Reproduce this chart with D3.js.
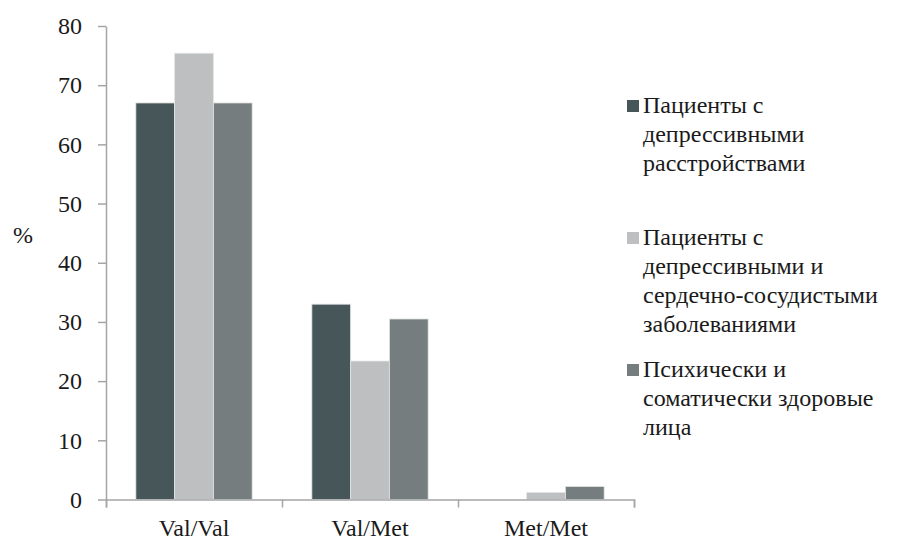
<!DOCTYPE html>
<html>
<head>
<meta charset="utf-8">
<script src="https://cdn.jsdelivr.net/npm/d3@7"></script>
<style>
  body { margin: 0; background: #fff; }
  #chart text, #chart tspan { font-family: "Liberation Serif", serif !important; font-size: 24px !important; fill: #1a1a1a; }
</style>
</head>
<body>
<svg id="chart" width="908" height="541"></svg>
<script>
var categories = ["Val/Val", "Val/Met", "Met/Met"];
var seriesNames = [
    ["Пациенты с", "депрессивными", "расстройствами"],
    ["Пациенты с", "депрессивными и", "сердечно-сосудистыми", "заболеваниями"],
    ["Психически и", "соматически здоровые", "лица"]
];
var seriesValues = [
    [67, 33, 0],
    [75.4, 23.4, 1.2],
    [67, 30.5, 2.2]
];
var yTicks = [0, 10, 20, 30, 40, 50, 60, 70, 80];
var colors = ["#475759", "#bebfc1", "#757d7e"];

var svg = d3.select("#chart"),
    plot = { left: 106, right: 634, top: 26, bottom: 499.5 },
    axisColor = "#a3a5a6";

var x0 = d3.scaleBand()
    .domain(categories)
    .range([plot.left, plot.right]);

var x1 = d3.scaleBand()
    .domain(d3.range(seriesValues.length))
    .range([0, x0.bandwidth()])
    .paddingOuter(0.77);

var y = d3.scaleLinear()
    .domain([0, 80])
    .range([plot.bottom, plot.top]);

// y axis
var yAxis = svg.append("g")
    .attr("transform", "translate(" + plot.left + ",0)")
    .call(d3.axisLeft(y).tickValues(yTicks).tickSize(8).tickSizeOuter(0).tickPadding(16));
yAxis.attr("font-family", null).attr("font-size", null);
yAxis.selectAll("line, path").attr("stroke", axisColor).attr("stroke-width", 1.5);

// bars
svg.append("g")
    .selectAll("g")
    .data(categories)
    .join("g")
    .attr("transform", c => "translate(" + x0(c) + ",0)")
    .selectAll("rect")
    .data((c, ci) => seriesValues.map((vals, si) => ({ s: si, v: vals[ci] })))
    .join("rect")
    .attr("x", d => x1(d.s))
    .attr("width", x1.bandwidth())
    .attr("y", d => y(d.v))
    .attr("height", d => y(0) - y(d.v))
    .attr("fill", d => colors[d.s])
    .attr("stroke", d => d.v > 0 ? "#e4e5e5" : "none")
    .attr("stroke-width", 0.8);

// x axis: line with boundary ticks, then labels
var xEdges = d3.scaleLinear().domain([0, categories.length]).range([plot.left, plot.right]);
var xAxis = svg.append("g")
    .attr("transform", "translate(0," + plot.bottom + ")")
    .call(d3.axisBottom(xEdges).ticks(categories.length).tickFormat("").tickSize(8).tickSizeOuter(8));
xAxis.selectAll("line, path").attr("stroke", axisColor).attr("stroke-width", 1.5);

var xLabels = svg.append("g")
    .attr("transform", "translate(0," + plot.bottom + ")")
    .call(d3.axisBottom(x0).tickSize(0).tickPadding(19));
xLabels.attr("font-family", null).attr("font-size", null);
xLabels.select(".domain").remove();

// y title
svg.append("text")
    .attr("x", 23)
    .attr("y", 243)
    .attr("text-anchor", "middle")
    .text("%");

// legend
var legendY = d3.scaleLinear().domain([0, 1]).range([113, 245]),
    lineHeight = 29;
var legend = svg.append("g")
    .selectAll("g")
    .data(seriesNames)
    .join("g")
    .attr("transform", (d, i) => "translate(627," + legendY(i) + ")");
legend.append("rect")
    .attr("x", 0)
    .attr("y", -13)
    .attr("width", 12)
    .attr("height", 12)
    .attr("fill", (d, i) => colors[i]);
legend.append("text")
    .selectAll("tspan")
    .data(d => d)
    .join("tspan")
    .attr("x", 16)
    .attr("y", (d, i) => i * lineHeight)
    .text(d => d);
</script>
</body>
</html>
